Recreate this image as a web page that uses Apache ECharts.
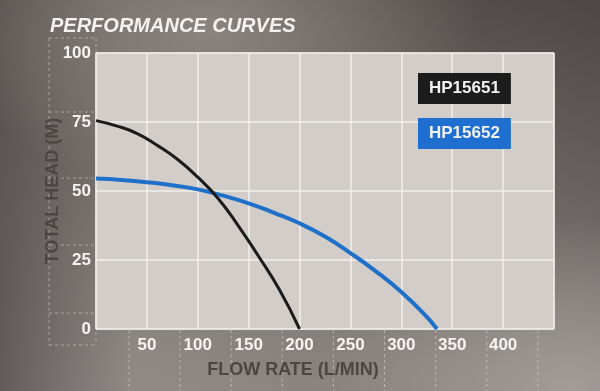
<!DOCTYPE html>
<html>
<head>
<meta charset="utf-8">
<script src="https://cdn.jsdelivr.net/npm/echarts@6/dist/echarts.min.js"></script>
<style>
html,body{margin:0;padding:0;}
#chart{width:600px;height:391px;
background:
 radial-gradient(ellipse 45% 40% at 35% 8%, rgba(150,144,140,0.75), rgba(150,144,140,0) 100%),
 radial-gradient(ellipse 40% 45% at 95% 100%, rgba(170,165,162,0.8), rgba(170,165,162,0) 100%),
 linear-gradient(to right, rgba(75,71,68,0.7) 0%, rgba(75,71,68,0) 22%),
 linear-gradient(200deg, #4c4744 0%, #6a6562 35%, #857f7c 70%, #948f8c 100%);
}
</style>
</head>
<body>
<div id="chart"></div>
<script>
const title = 'PERFORMANCE CURVES';
const seriesNames = ['HP15651', 'HP15652'];
const flowBlack = [0, 20, 40, 60, 80, 100, 120, 140, 160, 180, 200];
const headBlack = [75.5, 73.6, 70.9, 66.6, 61.5, 55, 47.3, 37.3, 26.2, 14.4, 0];
const flowBlue = [0, 25, 50, 75, 100, 125, 150, 175, 200, 225, 250, 275, 300, 325, 335];
const headBlue = [54.5, 54, 53.2, 52.1, 50.6, 48.3, 45.5, 42.1, 38.3, 33.5, 27.5, 20.9, 13.4, 4.4, 0];
const xTicks = [50, 100, 150, 200, 250, 300, 350, 400];
const yTicks = [0, 25, 50, 75, 100];

const chart = echarts.init(document.getElementById('chart'), null, {renderer: 'canvas'});
const font = '"Liberation Sans", Arial, sans-serif';
const dash = {type: 'line', silent: true, z: -10, style: {stroke: 'rgba(235,232,230,0.45)', lineWidth: 1, lineDash: [3, 3]}};
const deco = [];
[38, 112, 178, 245, 313, 345].forEach(y => deco.push(Object.assign({}, dash, {shape: {x1: 49, y1: y, x2: 96, y2: y}})));
deco.push(Object.assign({}, dash, {shape: {x1: 49, y1: 38, x2: 49, y2: 345}}));
deco.push(Object.assign({}, dash, {shape: {x1: 96, y1: 38, x2: 96, y2: 345}}));
for (let i = 0; i <= 8; i++) {
  const x = 129 + i * 51.1;
  deco.push(Object.assign({}, dash, {shape: {x1: x, y1: 330, x2: x, y2: 391}}));
}

chart.setOption({
  backgroundColor: 'transparent',
  animation: false,
  title: {
    text: title, left: 45, top: 11,
    textStyle: {color: '#f4f2f0', fontSize: 20, fontStyle: 'italic', fontWeight: 'bold', fontFamily: font}
  },
  legend: {
    orient: 'vertical', left: 408, top: 68, itemGap: 14,
    icon: 'rect', itemWidth: 0, itemHeight: 0,
    selectedMode: false,
    data: [
      {name: seriesNames[0], textStyle: {backgroundColor: '#1c1c1c', color: '#f2f2f2'}},
      {name: seriesNames[1], textStyle: {backgroundColor: '#1f6fd0', color: '#f2f2f2'}}
    ],
    textStyle: {fontSize: 17, fontWeight: 'bold', fontFamily: font, padding: [7, 11, 7, 11], lineHeight: 17}
  },
  grid: {
    left: 96, right: 46, top: 53, bottom: 62,
    show: true, backgroundColor: '#d3cdca', borderColor: '#e4e0de', borderWidth: 1
  },
  xAxis: {
    type: 'value', min: 0, max: 450, interval: 50,
    name: 'FLOW RATE (L/MIN)', nameLocation: 'middle', nameGap: 32, nameMoveOverlap: false,
    nameTextStyle: {color: '#4a4644', fontSize: 18, fontWeight: 'bold', fontFamily: font, padding: [0, 64, 0, 0]},
    axisLine: {show: false}, axisTick: {show: false},
    axisLabel: {
      color: '#f6f4f2', fontSize: 17, fontWeight: 'bold', fontFamily: font, margin: 8,
      formatter: v => xTicks.indexOf(v) >= 0 ? String(v) : ''
    },
    splitLine: {show: true, lineStyle: {color: '#f1efed', width: 1.5}}
  },
  yAxis: {
    type: 'value', min: 0, max: 100, interval: 25,
    name: 'TOTAL HEAD (M)', nameLocation: 'middle', nameGap: 34, nameMoveOverlap: false,
    nameTextStyle: {color: '#4a4644', fontSize: 18, fontWeight: 'bold', fontFamily: font},
    axisLine: {show: false}, axisTick: {show: false},
    axisLabel: {
      color: '#f6f4f2', fontSize: 17, fontWeight: 'bold', fontFamily: font, margin: 5,
      formatter: v => yTicks.indexOf(v) >= 0 ? String(v) : ''
    },
    splitLine: {show: true, lineStyle: {color: '#f1efed', width: 1.5}}
  },
  graphic: deco,
  series: [
    {
      name: seriesNames[0], type: 'line', smooth: 0.5, showSymbol: false, symbol: 'none',
      data: flowBlack.map((f, i) => [f, headBlack[i]]),
      lineStyle: {color: '#1b1b1b', width: 3}, itemStyle: {color: '#1b1b1b'}, z: 3
    },
    {
      name: seriesNames[1], type: 'line', smooth: 0.5, showSymbol: false, symbol: 'none',
      data: flowBlue.map((f, i) => [f, headBlue[i]]),
      lineStyle: {color: '#1f70c9', width: 4}, itemStyle: {color: '#1f70c9'}, z: 2
    }
  ]
});
</script>
</body>
</html>
